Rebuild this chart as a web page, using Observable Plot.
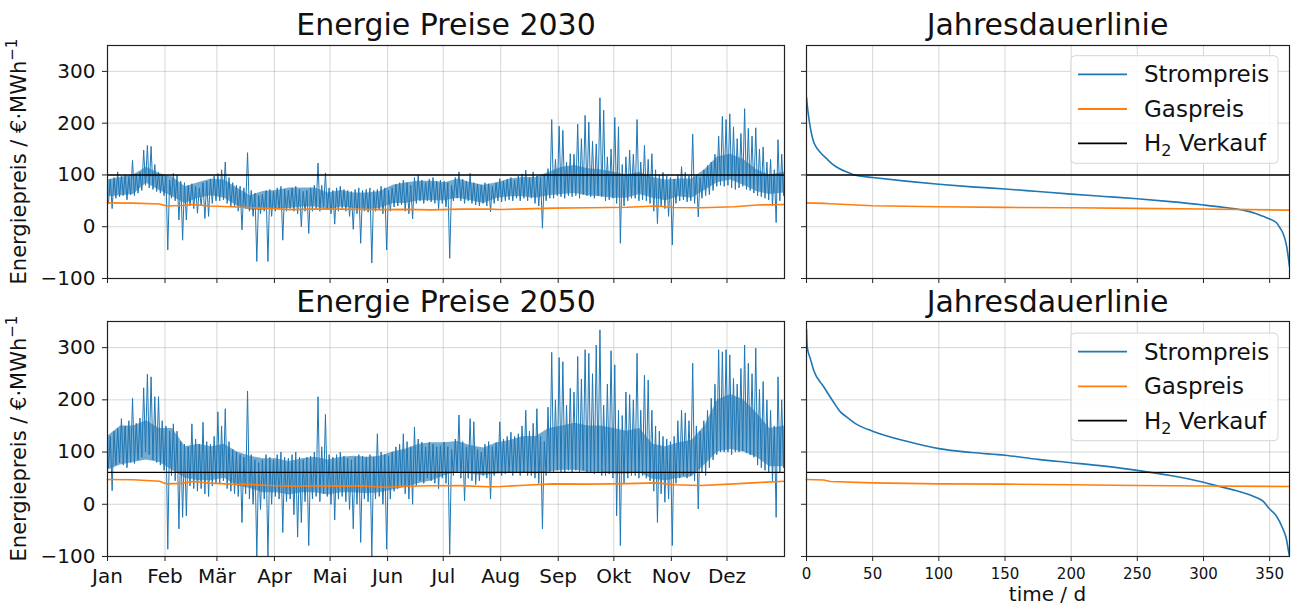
<!DOCTYPE html>
<html>
<head>
<meta charset="utf-8">
<script src="https://cdn.jsdelivr.net/npm/d3@7"></script>
<script src="https://cdn.jsdelivr.net/npm/@observablehq/plot@0.6"></script>
<style>
  body { margin: 0; background: #fff; }
  #wrap { position: relative; width: 1292px; height: 605px; overflow: hidden; background: #fff; font-family: "DejaVu Sans", sans-serif; }
  #wrap svg { position: absolute; }
</style>
</head>
<body>
<div id="wrap"></div>
<script>
// ---------- data ----------
const months = ["Jan","Feb","Mär","Apr","Mai","Jun","Jul","Aug","Sep","Okt","Nov","Dez"];
const monthStarts = [0,31,59,90,120,151,181,212,243,273,304,334];
const yTicks = [-100,0,100,200,300];
const durTicks = [0,50,100,150,200,250,300,350];

// two-day high / low envelope of the hourly electricity price (€/MWh)
const hi2030 = [
  92,95,106,98,100,97,128,102,105,148,
  157,155,120,105,100,98,90,103,100,88,
  85,80,83,78,75,85,88,92,98,103,
  110,125,95,85,80,78,75,143,70,65,
  60,62,70,72,68,75,78,72,70,75,
  78,72,68,70,75,80,123,80,104,75,
  70,75,78,72,70,68,72,75,70,72,
  75,70,72,78,75,70,75,82,85,90,
  85,80,95,100,90,85,92,95,88,90,
  88,85,80,95,106,92,88,103,85,82,
  80,85,83,78,85,93,88,92,95,90,
  98,102,109,95,106,98,95,100,112,207,
  130,194,186,125,141,140,198,170,215,202,
  165,160,249,225,135,150,211,193,120,135,
  148,140,207,125,157,130,141,110,100,105,
  98,95,92,100,116,105,98,179,100,95,
  110,118,125,140,175,213,207,218,193,170,
  180,228,190,175,191,150,154,125,130,110,
  168,140,130];
const lo2030 = [
  45,35,55,58,60,52,62,60,65,70,
  80,75,72,68,65,60,-45,55,50,13,
  -26,13,40,35,26,40,16,20,45,50,
  50,52,45,40,38,30,-6,35,30,20,
  -67,25,30,-67,20,30,35,-26,30,35,
  30,25,0,30,-13,30,35,30,38,35,
  25,5,30,35,30,20,-5,25,-32,30,
  28,-70,30,32,25,-45,30,38,40,42,
  30,25,15,45,50,45,50,48,45,35,
  45,38,-61,50,55,50,45,50,45,42,
  40,45,40,29,45,50,48,50,52,50,
  55,50,55,50,55,45,40,-3,50,55,
  55,60,58,55,60,58,60,55,62,60,
  58,55,60,58,50,52,55,45,-32,40,
  50,55,55,50,52,50,45,30,6,40,
  35,20,-35,45,50,52,48,50,45,19,
  55,60,62,70,78,80,78,80,75,72,
  75,78,72,70,65,60,58,55,52,40,
  8,50,60];
const hi2050 = [
  130,140,145,164,150,160,203,155,165,223,
  249,244,206,206,160,150,140,154,140,120,
  115,110,154,125,115,157,120,115,130,177,
  150,183,120,105,100,95,90,217,95,85,
  80,85,95,90,85,95,100,90,88,95,
  100,90,85,90,92,100,206,110,172,95,
  90,95,100,92,88,85,90,95,92,90,
  95,90,135,100,95,92,100,110,115,135,
  120,110,148,125,119,110,119,115,110,112,
  119,110,105,125,171,120,110,164,158,105,
  100,115,120,110,118,158,125,130,138,130,
  135,150,180,140,155,183,130,120,186,291,
  200,281,273,190,222,215,283,240,296,289,
  250,305,334,190,230,294,267,180,170,215,
  210,200,289,180,247,238,180,150,140,130,
  125,120,130,160,180,175,160,270,150,140,
  160,180,203,230,296,292,296,286,241,230,
  260,305,270,250,299,220,235,200,180,150,
  244,200,225];
const lo2050 = [
  70,26,75,80,75,70,80,78,85,90,
  100,95,85,80,75,65,-86,55,45,-47,
  -25,-22,35,30,25,30,20,15,35,40,
  40,45,30,25,20,15,-35,20,10,0,
  -99,-10,10,-100,0,15,10,-54,5,10,
  -20,-63,-35,5,-79,10,15,5,20,15,
  0,-30,10,15,5,-10,-47,0,-73,10,
  5,-100,10,15,0,-86,10,25,30,35,
  20,10,0,35,45,40,50,45,40,30,
  50,40,-96,55,60,50,7,50,45,38,
  45,55,50,10,55,60,55,58,60,55,
  60,55,60,55,55,50,40,-47,55,60,
  60,65,62,60,65,62,65,60,65,62,
  60,58,62,55,55,58,50,-22,-79,40,
  50,55,55,50,55,50,45,25,-35,20,
  4,10,-79,40,50,55,50,55,45,-9,
  60,55,70,85,95,100,100,100,95,100,
  100,102,98,95,90,75,70,65,60,45,
  -25,60,70];

// weekly dense core band of the hourly price (where most hours lie)
const coreDays = [0,7,14,21,28,35,42,49,56,63,70,77,84,91,98,105,112,119,126,133,140,147,154,161,168,175,182,189,196,203,210,217,224,231,238,245,252,259,266,273,280,287,294,301,308,315,322,329,336,343,350,357,365];
const coreLo2030 = [58,60,62,84,70,58,45,55,60,55,40,32,32,35,35,38,38,32,38,35,33,35,45,45,50,50,50,55,50,45,55,58,58,55,60,62,64,60,58,55,55,62,55,50,58,55,70,85,90,80,68,62,65];
const coreHi2030 = [90,95,100,115,103,96,77,85,92,90,75,60,68,70,75,75,75,65,70,65,65,68,80,85,88,88,85,92,85,80,85,92,95,95,105,115,118,112,110,105,100,105,95,90,92,92,110,135,140,130,110,100,105];
const coreLo2050 = [65,75,80,85,80,65,50,45,45,50,35,30,22,22,18,22,22,18,22,22,20,22,28,32,40,45,55,62,58,55,58,60,60,58,62,65,65,62,62,58,58,60,48,45,50,52,75,100,105,100,90,72,72];
const coreHi2050 = [130,150,150,160,145,145,110,115,110,115,100,92,87,87,82,87,90,85,90,92,90,92,100,106,115,118,118,120,112,108,118,122,130,130,145,150,155,150,150,145,140,145,115,110,118,122,150,200,210,200,175,145,150];

// gas price over the year
const gasDays = [0,14,28,32,40,46,55,67,78,90,98,110,124,137,150,160,175,190,205,212,225,240,260,280,296,305,320,338,350,365];
const gas2030 = [46,45.5,44,40,41,43,40,38.5,36.6,35,33,34,34,33.5,33,33.5,32.5,34,34,33.4,34.5,36,36.6,37.5,40,37,36.5,38.5,42,43];
const gas2050 = [47.5,47,44,39,40,43.5,40.5,38.5,37.8,35.5,34.6,35,34.8,35,32.5,34.5,35.5,35.8,33.5,34,36.5,39,38.5,39.5,41,37.5,36,39,41.5,44];

// hydrogen selling price
const h2Price = [100, 61];

// duration curves (Jahresdauerlinie)
const durDays2030 = [0,1,3,5,7,10,15,20,25,30,35,40,50,75,100,125,150,175,200,225,250,275,300,315,330,340,345,350,355,358,360,362,363,364,365];
const stromDur2030 = [250,225,190,167,155,145,132,120,112,106,101,98,95,88,82,77,73,68,63,58.5,54,48.5,42,37.5,32,25,20,15,8,-3,-12,-28,-40,-58,-77];
const durDays2050 = [0,0.5,3,5.5,13,20.6,25.6,30,38,50,75,100,125,150,175,200,225,250,275,300,312,325,338,345,350,355,360,362.6,364.3,365];
const stromDur2050 = [335,302,278,256,225,195,177,168,153,140,121,106.5,99,94,86,79.6,73,65,55,42,34,26,15,6,-9,-22,-47,-66,-90,-100];
const gasDurDays = [0,13,18,50,100,150,200,250,300,365];
const gasDur2030 = [46,45,44.3,40.5,38.5,37.3,36.6,35.5,34.2,32];
const gasDur2050 = [47.5,46.5,43.7,41,39,38.5,37.3,36,35,34];

// ---------- helpers ----------
const BLUE = "#1f77b4", ORANGE = "#ff7f0e";
function envelope(hi, lo) {
  const out = [];
  for (let i = 0; i < hi.length; i++) {
    out.push({t: 2 * i + 0.5, v: lo[i]});
    out.push({t: 2 * i + 1.5, v: hi[i]});
  }
  return out;
}
const pairs = (xs, ys) => xs.map((x, i) => ({t: x, v: ys[i]}));
const band = (lo, hi) => coreDays.map((d, i) => ({t: d, lo: lo[i], hi: hi[i]}));
const fmtNum = d => (d < 0 ? "\u2212" + Math.abs(d) : String(d));

function panel(o) {
  const svg = Plot.plot({
    width: o.width, height: o.height,
    marginTop: o.mt, marginBottom: o.mb, marginLeft: o.ml, marginRight: o.mr,
    style: {fontFamily: "DejaVu Sans", fontSize: "20px", color: "#000", background: "transparent", overflow: "visible"},
    x: {domain: [0, 365], label: null},
    y: {domain: [-100, 350], label: null},
    marks: [
      Plot.gridX(o.xTicks, {stroke: "#b0b0b0", strokeOpacity: 0.5, strokeWidth: 1}),
      Plot.gridY(yTicks, {stroke: "#b0b0b0", strokeOpacity: 0.5, strokeWidth: 1}),
      ...o.marks,
      Plot.frame({stroke: "#222", strokeWidth: 1.2}),
      Plot.axisX(o.xTicks, {tickSize: 5, tickPadding: o.xPad, stroke: "#222", fill: "#111", fontSize: o.xFont,
        tickFormat: o.xFormat || (() => ""), label: null}),
      Plot.axisY(yTicks, {tickSize: 5, tickPadding: 7, stroke: "#222", fill: "#111", fontSize: 20,
        tickFormat: o.yLabels ? fmtNum : (() => ""), label: null})
    ]
  });
  svg.style.left = o.left + "px";
  svg.style.top = o.top + "px";
  return svg;
}

function timeMarks(hi, lo, cLo, cHi, gas, h2) {
  return [
    Plot.areaY(band(cLo, cHi), {x: "t", y1: "lo", y2: "hi", fill: BLUE, fillOpacity: 0.62}),
    Plot.line(envelope(hi, lo), {x: "t", y: "v", stroke: BLUE, strokeWidth: 1, clip: true}),
    Plot.line(pairs(gasDays, gas), {x: "t", y: "v", stroke: ORANGE, strokeWidth: 1.6}),
    Plot.ruleY([h2], {stroke: "#000", strokeWidth: 1.4})
  ];
}
function durMarks(days, strom, gasD, h2) {
  return [
    Plot.line(pairs(days, strom), {x: "t", y: "v", stroke: BLUE, strokeWidth: 1.6, clip: true, curve: "monotone-x"}),
    Plot.line(pairs(gasDurDays, gasD), {x: "t", y: "v", stroke: ORANGE, strokeWidth: 1.6}),
    Plot.ruleY([h2], {stroke: "#000", strokeWidth: 1.4})
  ];
}

const monthFmt = d => months[monthStarts.indexOf(d)];
const wrap = document.getElementById("wrap");

wrap.appendChild(panel({left: 0, top: 0, width: 790, height: 290, mt: 45, mb: 12, ml: 107, mr: 6,
  xTicks: monthStarts, xPad: 7, xFont: 20, yLabels: true,
  marks: timeMarks(hi2030, lo2030, coreLo2030, coreHi2030, gas2030, h2Price[0])}));
wrap.appendChild(panel({left: 0, top: 290, width: 790, height: 315, mt: 31, mb: 49, ml: 107, mr: 6,
  xTicks: monthStarts, xPad: 7, xFont: 20, xFormat: monthFmt, yLabels: true,
  marks: timeMarks(hi2050, lo2050, coreLo2050, coreHi2050, gas2050, h2Price[1])}));
wrap.appendChild(panel({left: 790, top: 0, width: 502, height: 290, mt: 45, mb: 12, ml: 16, mr: 3,
  xTicks: durTicks, xPad: 7, xFont: 15, yLabels: false,
  marks: durMarks(durDays2030, stromDur2030, gasDur2030, h2Price[0])}));
wrap.appendChild(panel({left: 790, top: 290, width: 502, height: 315, mt: 31, mb: 49, ml: 16, mr: 3,
  xTicks: durTicks, xPad: 7, xFont: 15, xFormat: d => String(d), yLabels: false,
  marks: durMarks(durDays2050, stromDur2050, gasDur2050, h2Price[1])}));

// ---------- titles, labels, legends ----------
const ov = d3.select(wrap).append("svg")
  .attr("width", 1292).attr("height", 605)
  .style("left", "0px").style("top", "0px")
  .style("font-family", "'DejaVu Sans', sans-serif")
  .style("pointer-events", "none");

const titles = [
  {x: 446, y: 35, t: "Energie Preise 2030"},
  {x: 1047.5, y: 35, t: "Jahresdauerlinie"},
  {x: 446, y: 312, t: "Energie Preise 2050"},
  {x: 1047.5, y: 312, t: "Jahresdauerlinie"}
];
ov.selectAll("text.title").data(titles).join("text")
  .attr("class", "title").attr("x", d => d.x).attr("y", d => d.y)
  .attr("text-anchor", "middle").attr("font-size", 30).attr("fill", "#111").text(d => d.t);

[161.5, 438.5].forEach(cy => {
  const t = ov.append("text")
    .attr("transform", `translate(26,${cy}) rotate(-90)`)
    .attr("text-anchor", "middle").attr("font-size", 21).attr("fill", "#111");
  t.append("tspan").text("Energiepreis / €·MWh");
  t.append("tspan").attr("dy", -9).attr("font-size", 15).text("\u22121");
});

ov.append("text").attr("x", 1047.5).attr("y", 601).attr("text-anchor", "middle")
  .attr("font-size", 20).attr("fill", "#111").text("time / d");

[0, 277.4].forEach(off => {
  const g = ov.append("g").attr("transform", `translate(0,${off})`);
  g.append("rect").attr("x", 1071).attr("y", 55.7).attr("width", 207).attr("height", 107.6)
    .attr("rx", 4).attr("fill", "#fff").attr("fill-opacity", 0.85).attr("stroke", "#d6d6d6");
  const rows = [
    {y: 74.3, c: BLUE, t: "Strompreis"},
    {y: 109, c: ORANGE, t: "Gaspreis"},
    {y: 143.3, c: "#000", t: null}
  ];
  rows.forEach(r => {
    g.append("line").attr("x1", 1078).attr("x2", 1127).attr("y1", r.y).attr("y2", r.y)
      .attr("stroke", r.c).attr("stroke-width", 1.8);
    const tx = g.append("text").attr("x", 1144).attr("y", r.y + 8).attr("font-size", 23).attr("fill", "#111");
    if (r.t) tx.text(r.t);
    else {
      tx.append("tspan").text("H");
      tx.append("tspan").attr("dy", 5).attr("font-size", 16).text("2");
      tx.append("tspan").attr("dy", -5).text(" Verkauf");
    }
  });
});
</script>
</body>
</html>
